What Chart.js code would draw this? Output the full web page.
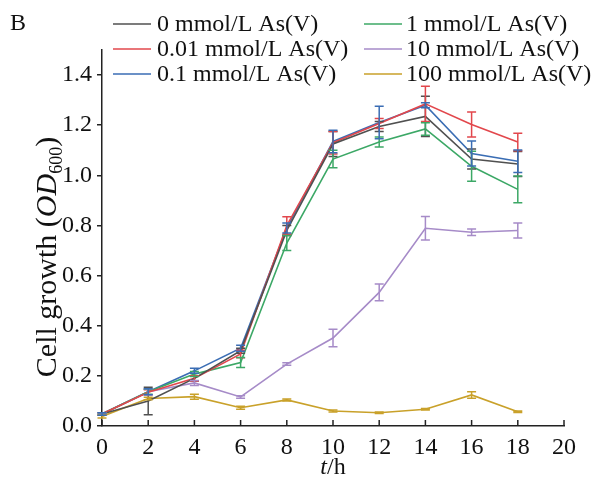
<!DOCTYPE html>
<html>
<head>
<meta charset="utf-8">
<script src="https://cdn.jsdelivr.net/npm/chart.js@4.4.1/dist/chart.umd.min.js"></script>
<style>
html,body{margin:0;padding:0;background:#fff;}
canvas{display:block;}
</style>
</head>
<body>
<canvas id="c" width="592" height="482"></canvas>
<script>
// ---- data ----
const times = [0, 2, 4, 6, 8, 10, 12, 14, 16, 18];
const xTicks = [0, 2, 4, 6, 8, 10, 12, 14, 16, 18, 20];
const yTicks = [0, 0.2, 0.4, 0.6, 0.8, 1.0, 1.2, 1.4];

const labels = ['0 mmol/L As(V)', '0.01 mmol/L As(V)', '0.1 mmol/L As(V)', '1 mmol/L As(V)', '10 mmol/L As(V)', '100 mmol/L As(V)'];

const od0    = [0.048, 0.100, 0.190, 0.300, 0.780, 1.125, 1.195, 1.235, 1.065, 1.045];
const od0Err = [0.005, 0.055, 0.010, 0.010, 0.020, 0.050, 0.020, 0.080, 0.040, 0.050];
const od001    = [0.048, 0.135, 0.190, 0.287, 0.800, 1.130, 1.207, 1.285, 1.203, 1.133];
const od001Err = [0.005, 0.010, 0.010, 0.015, 0.035, 0.045, 0.020, 0.070, 0.050, 0.035];
const od01    = [0.048, 0.137, 0.220, 0.310, 0.790, 1.135, 1.211, 1.280, 1.087, 1.056];
const od01Err = [0.005, 0.012, 0.010, 0.012, 0.020, 0.045, 0.065, 0.010, 0.050, 0.045];
const od1    = [0.048, 0.137, 0.207, 0.253, 0.730, 1.065, 1.133, 1.185, 1.036, 0.944];
const od1Err = [0.005, 0.010, 0.010, 0.020, 0.030, 0.035, 0.020, 0.025, 0.060, 0.053];
const od10    = [0.048, 0.137, 0.172, 0.116, 0.247, 0.351, 0.533, 0.789, 0.773, 0.780];
const od10Err = [0.005, 0.012, 0.010, 0.005, 0.005, 0.035, 0.033, 0.047, 0.013, 0.030];
const od100    = [0.038, 0.110, 0.117, 0.073, 0.104, 0.060, 0.053, 0.067, 0.124, 0.057];
const od100Err = [0.006, 0.005, 0.010, 0.006, 0.004, 0.004, 0.003, 0.003, 0.013, 0.003];

const colors = ['#505050', '#e2474c', '#3a6db4', '#3ca866', '#a68bc8', '#c9a12a'];

// ---- build datasets ----
const series = [
  {label: labels[0], v: od0, e: od0Err, c: colors[0]},
  {label: labels[1], v: od001, e: od001Err, c: colors[1]},
  {label: labels[3], v: od1, e: od1Err, c: colors[3]},
  {label: labels[4], v: od10, e: od10Err, c: colors[4]},
  {label: labels[5], v: od100, e: od100Err, c: colors[5]},
  {label: labels[2], v: od01, e: od01Err, c: colors[2]},
];
const datasets = series.map(s => ({
  label: s.label,
  data: times.map((t, i) => ({x: t, y: s.v[i]})),
  errors: s.e,
  borderColor: s.c,
  backgroundColor: s.c,
  borderWidth: 1.6,
  pointRadius: 0,
  tension: 0,
  fill: false
}));

const FONT = '"Liberation Serif", "Times New Roman", serif';

const errorBars = {
  id: 'errorBars',
  afterDatasetsDraw(chart) {
    const ctx = chart.ctx, xs = chart.scales.x, ys = chart.scales.y;
    chart.data.datasets.forEach((ds, di) => {
      if (!chart.isDatasetVisible(di)) return;
      ctx.save();
      ctx.strokeStyle = ds.borderColor;
      ctx.lineWidth = 1.5;
      ds.data.forEach((p, i) => {
        const e = ds.errors[i];
        const px = xs.getPixelForValue(p.x);
        const top = ys.getPixelForValue(p.y + e);
        const bot = ys.getPixelForValue(p.y - e);
        const w = 4.5;
        ctx.beginPath();
        ctx.moveTo(px, top); ctx.lineTo(px, bot);
        ctx.moveTo(px - w, top); ctx.lineTo(px + w, top);
        ctx.moveTo(px - w, bot); ctx.lineTo(px + w, bot);
        ctx.stroke();
      });
      ctx.restore();
    });
  }
};

const decorations = {
  id: 'decorations',
  afterDraw(chart) {
    const ctx = chart.ctx, xs = chart.scales.x, area = chart.chartArea;
    ctx.save();
    // inward x ticks
    ctx.strokeStyle = '#222';
    ctx.lineWidth = 1.5;
    xTicks.forEach(v => {
      const px = xs.getPixelForValue(v);
      ctx.beginPath();
      ctx.moveTo(px, area.bottom);
      ctx.lineTo(px, area.bottom - 6);
      ctx.stroke();
    });
    ctx.fillStyle = '#111';
    ctx.textBaseline = 'alphabetic';
    // panel letter
    ctx.font = '24px ' + FONT;
    ctx.textAlign = 'left';
    ctx.fillText('B', 10, 30);
    // x title
    ctx.font = 'italic 24px ' + FONT;
    const tW = ctx.measureText('t').width;
    ctx.font = '24px ' + FONT;
    const hW = ctx.measureText('/h').width;
    const xc = (area.left + area.right) / 2;
    const x0 = xc - (tW + hW) / 2;
    ctx.font = 'italic 24px ' + FONT;
    ctx.fillText('t', x0, 474);
    ctx.font = '24px ' + FONT;
    ctx.fillText('/h', x0 + tW, 474);
    // y title rotated
    const parts = [
      {t: 'Cell growth (', f: '30px ' + FONT, dy: 0},
      {t: 'OD', f: 'italic 30px ' + FONT, dy: 0},
      {t: '600', f: '18px ' + FONT, dy: 6},
      {t: ')', f: '30px ' + FONT, dy: 0},
    ];
    let total = 0;
    parts.forEach(p => { ctx.font = p.f; p.w = ctx.measureText(p.t).width; total += p.w; });
    ctx.translate(56, 257);
    ctx.rotate(-Math.PI / 2);
    let cx = -total / 2;
    parts.forEach(p => { ctx.font = p.f; ctx.fillText(p.t, cx, p.dy); cx += p.w; });
    ctx.restore();

    // legend (two columns)
    ctx.save();
    const legendOrder = [[0, 1, 2], [3, 4, 5]];
    const colX = [113, 364];
    const rowY = [24, 49, 74];
    ctx.font = '24px ' + FONT;
    ctx.textBaseline = 'middle';
    ctx.textAlign = 'left';
    legendOrder.forEach((col, ci) => {
      col.forEach((si, ri) => {
        ctx.strokeStyle = colors[si];
        ctx.lineWidth = 1.6;
        ctx.beginPath();
        ctx.moveTo(colX[ci], rowY[ri]);
        ctx.lineTo(colX[ci] + 38, rowY[ri]);
        ctx.stroke();
        ctx.fillStyle = '#111';
        ctx.fillText(labels[si], colX[ci] + (ci === 0 ? 44 : 42), rowY[ri] + 1);
      });
    });
    ctx.restore();
  }
};

new Chart(document.getElementById('c'), {
  type: 'line',
  data: {datasets},
  options: {
    responsive: false,
    animation: false,
    layout: {padding: {top: 50, right: 28, left: 0, bottom: 0}},
    plugins: {legend: {display: false}, tooltip: {enabled: false}},
    scales: {
      x: {
        type: 'linear',
        min: 0, max: 20,
        afterBuildTicks: s => { s.ticks = xTicks.map(v => ({value: v})); },
        afterFit: s => { s.height = 56; },
        grid: {display: true, drawOnChartArea: false, drawTicks: false},
        border: {display: true, color: '#222', width: 1.5},
        ticks: {color: '#111', font: {family: FONT, size: 24}, padding: 7, maxRotation: 0, autoSkip: false,
                callback: v => String(v)}
      },
      y: {
        type: 'linear',
        min: 0, max: 1.5,
        afterBuildTicks: s => { s.ticks = yTicks.map(v => ({value: v})); },
        afterFit: s => { s.width = 102; },
        grid: {display: true, drawOnChartArea: false, drawTicks: true, tickLength: 5, color: '#222', lineWidth: 1.5},
        border: {display: true, color: '#222', width: 1.5},
        ticks: {color: '#111', font: {family: FONT, size: 24}, padding: 5,
                callback: v => v.toFixed(1)}
      }
    }
  },
  plugins: [errorBars, decorations]
});
</script>
</body>
</html>
